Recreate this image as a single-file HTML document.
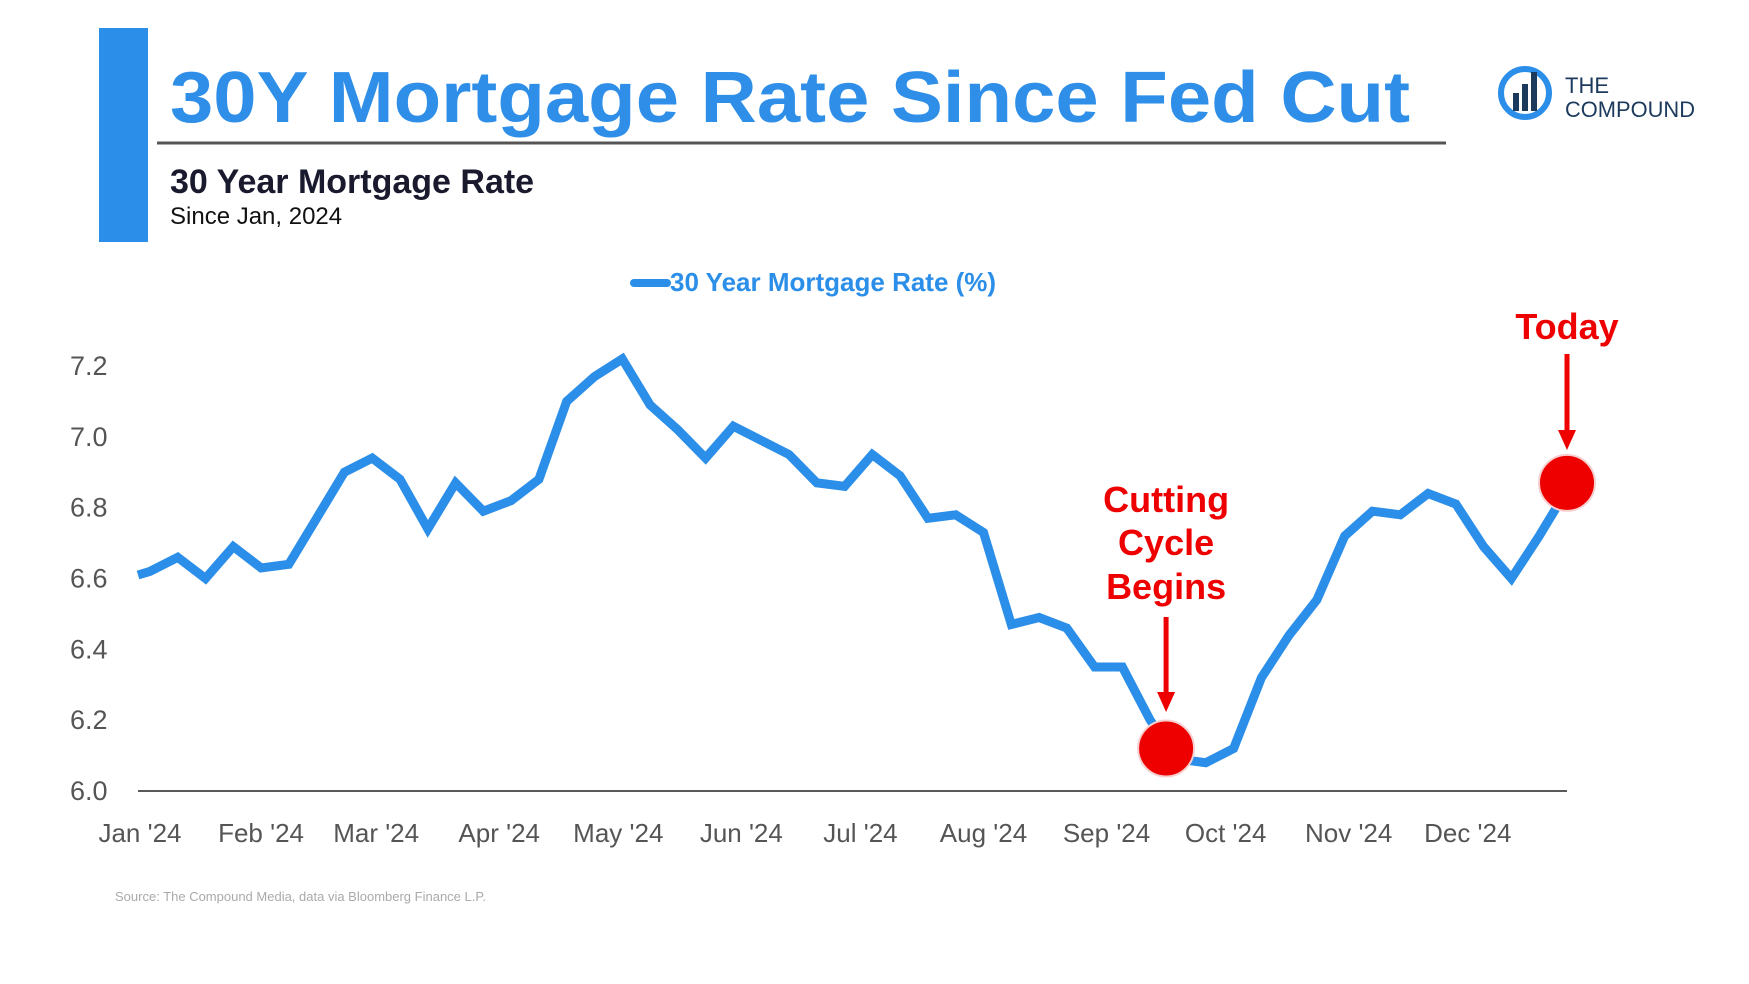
<!DOCTYPE html>
<html><head><meta charset="utf-8"><style>
html,body{margin:0;padding:0;background:#fff;}
svg{display:block;font-family:"Liberation Sans",sans-serif;}
</style></head><body>
<svg id="chart" width="1749" height="984" viewBox="0 0 1749 984" xmlns="http://www.w3.org/2000/svg">
<rect x="99" y="28" width="49" height="214" fill="#2b8ee8"/>
<text x="170" y="122" font-size="72" font-weight="bold" fill="#2f8fe8" textLength="1240" lengthAdjust="spacingAndGlyphs">30Y Mortgage Rate Since Fed Cut</text>
<line x1="157" y1="143" x2="1446" y2="143" stroke="#555" stroke-width="3"/>
<text x="170" y="193" font-size="34" font-weight="bold" fill="#1a1a2e">30 Year Mortgage Rate</text>
<text x="170" y="224" font-size="24" fill="#111">Since Jan, 2024</text>
<g>
<circle cx="1525" cy="93" r="24" fill="none" stroke="#2b8ee8" stroke-width="6"/>
<rect x="1513" y="93" width="6" height="18" fill="#1b3a5c"/>
<rect x="1522" y="84" width="6" height="27" fill="#1b3a5c"/>
<rect x="1531" y="72" width="6" height="39" fill="#1b3a5c"/>
<text x="1565" y="93" font-size="22" fill="#1b3a5c">THE</text>
<text x="1565" y="117" font-size="22" fill="#1b3a5c" textLength="130" lengthAdjust="spacingAndGlyphs">COMPOUND</text>
</g>
<g>
<line x1="634" y1="283" x2="667" y2="283" stroke="#2b8ee8" stroke-width="8" stroke-linecap="round"/>
<text x="670" y="291" font-size="26" font-weight="bold" fill="#2b8ee8">30 Year Mortgage Rate (%)</text>
</g>
<g id="axes"></g>
<g id="series"></g>
<g id="annot"></g>
<text x="115" y="901" font-size="13" fill="#aaa">Source: The Compound Media, data via Bloomberg Finance  L.P.</text>
</svg>
<script>
const rates = [6.61,6.62,6.66,6.60,6.69,6.63,6.64,6.77,6.90,6.94,6.88,6.74,6.87,6.79,6.82,6.88,7.10,7.17,7.22,7.09,7.02,6.94,7.03,6.99,6.95,6.87,6.86,6.95,6.89,6.77,6.78,6.73,6.47,6.49,6.46,6.35,6.35,6.20,6.09,6.08,6.12,6.32,6.44,6.54,6.72,6.79,6.78,6.84,6.81,6.69,6.60,6.72,6.85];
const dayOffsets = [0,3,10,17,24,31,38,45,52,59,66,73,80,87,94,101,108,115,122,129,136,143,150,157,164,171,178,185,192,199,206,213,220,227,234,241,248,255,262,269,276,283,290,297,304,311,318,325,332,339,346,353,360];
const yTicks = [6.0,6.2,6.4,6.6,6.8,7.0,7.2];
const yTickLabels = ["6.0","6.2","6.4","6.6","6.8","7.0","7.2"];
const monthLabels = ["Jan '24","Feb '24","Mar '24","Apr '24","May '24","Jun '24","Jul '24","Aug '24","Sep '24","Oct '24","Nov '24","Dec '24"];
const monthStartDays = [0.5,31,60,91,121,152,182,213,244,274,305,335];
const cutMarker = {day:259, value:6.12};
const todayMarker = {day:360, value:6.87};

const NS="http://www.w3.org/2000/svg";
const X0=138, X1=1567, Y0=791, Y1=366, DMAX=360;
const xs=d=>X0+d*(X1-X0)/DMAX;
const ys=v=>Y0-(v-6.0)/(7.2-6.0)*(Y0-Y1);
function mk(tag,attrs,parent,txt){const e=document.createElementNS(NS,tag);for(const k in attrs)e.setAttribute(k,attrs[k]);if(txt!==undefined)e.textContent=txt;parent.appendChild(e);return e;}
const axes=document.getElementById('axes'),series=document.getElementById('series'),annot=document.getElementById('annot');
const ax=mk('line',{x1:X0,y1:Y0,x2:X1,y2:Y0,stroke:'#222','stroke-width':1.5},axes);


yTicks.forEach((v,i)=>{const t=mk('text',{x:70,y:ys(v)+9,'font-size':27,fill:'#555'},axes,yTickLabels[i]);

});
monthLabels.forEach((m,i)=>{const t=mk('text',{x:xs(monthStartDays[i]),y:842,'font-size':26,fill:'#555','text-anchor':'middle'},axes,m);

});
const pts=rates.map((v,i)=>xs(dayOffsets[i]).toFixed(1)+','+ys(v).toFixed(1)).join(' ');
const pl=mk('polyline',{points:pts,fill:'none',stroke:'#2b8ee8','stroke-width':9,'stroke-linejoin':'miter','stroke-linecap':'butt'},series);


function dot(m,name){const c=mk('circle',{cx:xs(m.day),cy:ys(m.value),r:28,fill:'#ee0000',stroke:'#f6d0d0','stroke-width':2},annot);

return c;}
function arrow(x,y1,y2,name){const g=mk('g',{},annot);


mk('line',{x1:x,y1:y1,x2:x,y2:y2-18,stroke:'#ee0000','stroke-width':5},g);
mk('polygon',{points:`${x-9},${y2-20} ${x+9},${y2-20} ${x},${y2}`,fill:'#ee0000'},g);}
const cx=xs(cutMarker.day), tx=xs(todayMarker.day);
const lines=["Cutting","Cycle","Begins"], lys=[512,555,599];
lines.forEach((l,i)=>{const t=mk('text',{x:cx,y:lys[i],'font-size':36,'font-weight':'bold',fill:'#ee0000','text-anchor':'middle'},annot,l);

});
arrow(cx,617,712,'cutting-cycle-arrow');
dot(cutMarker,'cutting-cycle-marker');
const tt=mk('text',{x:tx,y:339,'font-size':36,'font-weight':'bold',fill:'#ee0000','text-anchor':'middle'},annot,'Today');


arrow(tx,354,450,'today-arrow');
dot(todayMarker,'today-marker');
</script>
</body></html>
